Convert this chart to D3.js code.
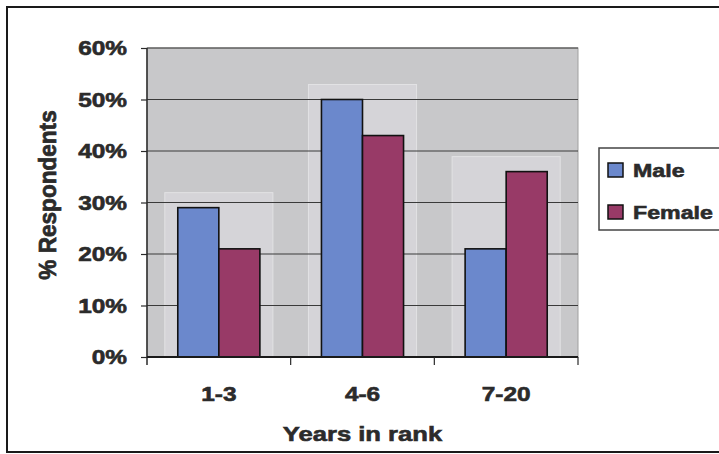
<!DOCTYPE html>
<html>
<head>
<meta charset="utf-8">
<script src="https://cdn.jsdelivr.net/npm/d3@7"></script>
<style>
  html, body { margin: 0; padding: 0; background: #fff; }
  svg { display: block; }
  text { font-family: "Liberation Sans", Arial, sans-serif; font-weight: bold; fill: #2b2b2b; stroke: #2b2b2b; stroke-width: 0.6px; }
</style>
</head>
<body>
<svg id="chart" width="719" height="454"></svg>
<script>
// Share of respondents by years in rank, split by gender
const categories = ["1-3", "4-6", "7-20"];
const seriesNames = ["Male", "Female"];
const maleValues = [0.29, 0.50, 0.21];
const femaleValues = [0.21, 0.43, 0.36];
const yTicks = [0, 0.1, 0.2, 0.3, 0.4, 0.5, 0.6];
const xTitle = "Years in rank";
const yTitle = "% Respondents";
const colors = { Male: "#6b88cc", Female: "#983a67" };

const svg = d3.select("#chart");
const plot = { left: 147, right: 578, top: 48, bottom: 357 };
const stretch = 1.22; // horizontal widening of the label lettering

const x0 = d3.scaleBand().domain(categories).range([plot.left, plot.right]).padding(0);
const x1 = d3.scaleBand().domain(seriesNames).range([0, x0.bandwidth()])
  .paddingInner(0).paddingOuter(0.75);
const y = d3.scaleLinear().domain([0, 0.6]).range([plot.bottom, plot.top]);

const rows = categories.map((c, i) => ({
  category: c,
  values: [{ key: "Male", value: maleValues[i] }, { key: "Female", value: femaleValues[i] }]
}));

// outer chart frame
svg.append("rect")
  .attr("x", 7).attr("y", 7).attr("width", 740).attr("height", 445)
  .attr("fill", "#fff").attr("stroke", "#1a1a1a").attr("stroke-width", 2);

// plot area
svg.append("rect")
  .attr("x", plot.left).attr("y", plot.top)
  .attr("width", plot.right - plot.left).attr("height", plot.bottom - plot.top)
  .attr("fill", "#c8c8ca").attr("stroke", "#a0a0a0").attr("stroke-width", 1);

// lighter panel behind each group of bars
svg.append("g").selectAll("rect")
  .data(rows)
  .join("rect")
  .attr("x", d => x0(d.category) + x1("Male") - 13)
  .attr("y", d => y(d3.max(d.values, v => v.value)) - 15)
  .attr("width", x1.bandwidth() * 2 + 26)
  .attr("height", d => plot.bottom - y(d3.max(d.values, v => v.value)) + 15)
  .attr("fill", "#d5d4d8")
  .attr("stroke", "#e2e2e4").attr("stroke-width", 1);

// horizontal gridlines
svg.append("g").selectAll("line")
  .data(yTicks.filter(t => t > 0))
  .join("line")
  .attr("x1", plot.left).attr("x2", plot.right)
  .attr("y1", d => y(d)).attr("y2", d => y(d))
  .attr("stroke", "#3a3a3a").attr("stroke-width", 1.2);

// bars
svg.append("g").selectAll("g")
  .data(rows)
  .join("g")
  .attr("transform", d => `translate(${x0(d.category)},0)`)
  .selectAll("rect")
  .data(d => d.values)
  .join("rect")
  .attr("x", d => x1(d.key))
  .attr("y", d => y(d.value))
  .attr("width", x1.bandwidth())
  .attr("height", d => y(0) - y(d.value))
  .attr("fill", d => colors[d.key])
  .attr("stroke", "#111").attr("stroke-width", 1.6);

// y axis
const yAxis = d3.axisLeft(y).tickValues(yTicks).tickSize(6).tickFormat("");
const yg = svg.append("g").attr("transform", `translate(${plot.left},0)`).call(yAxis);
yg.select(".domain").attr("stroke", "#2a2a2a").attr("stroke-width", 1.5).attr("d", `M0,${plot.top}V${plot.bottom + 8}`);
yg.selectAll(".tick line").attr("stroke", "#2a2a2a").attr("stroke-width", 1.2);

svg.append("g").selectAll("text")
  .data(yTicks)
  .join("text")
  .attr("transform", d => `translate(127,${y(d) + 7}) scale(${stretch},1)`)
  .attr("text-anchor", "end")
  .attr("font-size", 20)
  .text(d3.format(".0%"));

// x axis
const xAxis = d3.axisBottom(x0).tickSize(0).tickFormat("");
const xg = svg.append("g").attr("transform", `translate(0,${plot.bottom})`).call(xAxis);
xg.select(".domain").attr("stroke", "#1a1a1a").attr("stroke-width", 1.8).attr("d", `M${plot.left},0H${plot.right}`);
xg.selectAll(".tick").remove();
svg.append("g").selectAll("line")
  .data(categories)
  .join("line")
  .attr("x1", d => x0(d) + x0.bandwidth())
  .attr("x2", d => x0(d) + x0.bandwidth())
  .attr("y1", plot.bottom).attr("y2", plot.bottom + 8)
  .attr("stroke", "#2a2a2a").attr("stroke-width", 1.2);

svg.append("g").selectAll("text")
  .data(categories)
  .join("text")
  .attr("transform", d => `translate(${x0(d) + x0.bandwidth() / 2},401) scale(${stretch},1)`)
  .attr("text-anchor", "middle")
  .attr("font-size", 20)
  .text(d => d);

// axis titles
svg.append("text")
  .attr("transform", `translate(${(plot.left + plot.right) / 2},441) scale(${stretch},1)`)
  .attr("text-anchor", "middle")
  .attr("font-size", 21)
  .text(xTitle);

svg.append("text")
  .attr("transform", `translate(56,195) rotate(-90) scale(1.13,${stretch})`)
  .attr("text-anchor", "middle")
  .attr("font-size", 20)
  .text(yTitle);

// legend
const legend = svg.append("g");
legend.append("rect")
  .attr("x", 599).attr("y", 148).attr("width", 140).attr("height", 82)
  .attr("fill", "#fff").attr("stroke", "#444").attr("stroke-width", 1.5);
const items = legend.selectAll("g.item")
  .data(seriesNames)
  .join("g")
  .attr("class", "item")
  .attr("transform", (d, i) => `translate(0,${i * 42})`);
items.append("rect")
  .attr("x", 608).attr("y", 163).attr("width", 15).attr("height", 14)
  .attr("fill", d => colors[d]).attr("stroke", "#111").attr("stroke-width", 1.5);
items.append("text")
  .attr("transform", `translate(633,177) scale(${stretch},1)`)
  .attr("font-size", 19)
  .text(d => d);
</script>
</body>
</html>
